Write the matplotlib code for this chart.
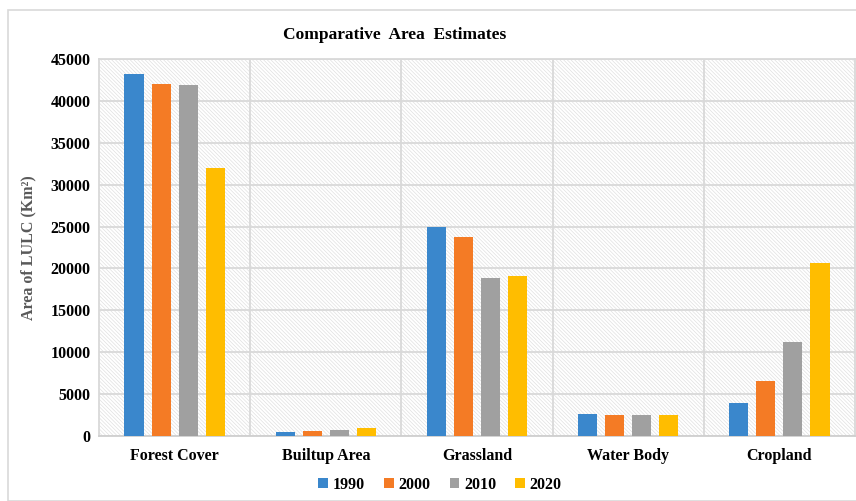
import matplotlib.pyplot as plt
import numpy as np
from matplotlib.patches import Rectangle

categories = ["Forest Cover", "Builtup Area", "Grassland", "Water Body", "Cropland"]
years = ["1990", "2000", "2010", "2020"]
area_1990 = [43200, 450, 25000, 2600, 3900]
area_2000 = [42000, 600, 23700, 2450, 6600]
area_2010 = [41900, 700, 18800, 2450, 11200]
area_2020 = [32000, 900, 19100, 2500, 20600]
colors = ["#3a87cc", "#f47b25", "#a0a0a0", "#ffbd00"]

plt.rcParams["font.family"] = ["Liberation Serif", "DejaVu Serif"]
plt.rcParams["hatch.linewidth"] = 0.5
plt.rcParams["hatch.color"] = "#e0e0e0"

fig = plt.figure(figsize=(8.56, 5.01), dpi=100)
fig.patches.append(Rectangle((8 / 856, 0), 1, 491 / 501, transform=fig.transFigure,
                             fill=False, edgecolor="#d9d9d9", linewidth=1.2))
ax = fig.add_axes([99 / 856, 1 - 436 / 501, 756 / 856, 377 / 501])

# hatched background
ax.add_patch(Rectangle((0, 0), 1, 1, transform=ax.transAxes, facecolor="white",
                       edgecolor="#e0e0e0", hatch="\\" * 9, linewidth=0, zorder=0))

x = np.arange(len(categories))
step = 0.179
width = 0.126
series = [area_1990, area_2000, area_2010, area_2020]
for i, (vals, yr, c) in enumerate(zip(series, years, colors)):
    ax.bar(x + (i - 1.5) * step, vals, width, color=c, label=yr, zorder=3)

ax.set_xlim(-0.5, len(categories) - 0.5)
ax.set_ylim(0, 45000)
ax.set_yticks(np.arange(0, 45001, 5000))
ax.set_xticks(x)
ax.set_xticklabels(categories)
for v in np.arange(0.5, len(categories) - 0.5):
    ax.axvline(v, color="#d9d9d9", linewidth=1.3, zorder=1)
ax.yaxis.grid(True, color="#d9d9d9", linewidth=1.3, zorder=1)
ax.set_axisbelow(True)
ax.tick_params(length=0, labelsize=11.5, pad=6)
ax.tick_params(axis="x", pad=9)
for lab in ax.get_xticklabels() + ax.get_yticklabels():
    lab.set_fontweight("bold")
for s in ax.spines.values():
    s.set_color("#d9d9d9")
    s.set_linewidth(1.3)
ax.spines["bottom"].set_color("#cfcfcf")

ax.set_ylabel("Area of LULC (Km²)", fontsize=11.5, fontweight="bold", color="#595959", labelpad=10)
fig.text(395 / 856, 1 - 35 / 501, "Comparative  Area  Estimates", ha="center", va="center",
         fontsize=12.5, fontweight="bold")

leg = fig.legend(loc="center", bbox_to_anchor=(440 / 856, 1 - 485 / 501), ncol=4, frameon=False,
                 handlelength=0.6, handleheight=0.6, handletextpad=0.3, columnspacing=1.2,
                 prop={"weight": "bold", "size": 11.5})

fig.savefig("out.png", dpi=100)
